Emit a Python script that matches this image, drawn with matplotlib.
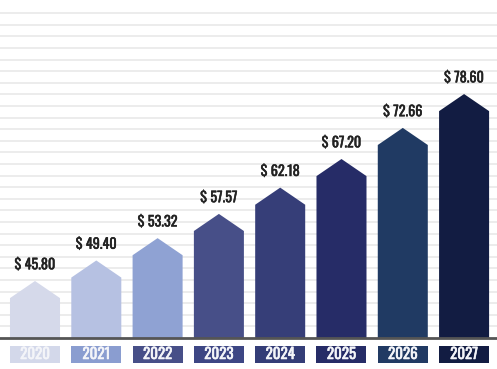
import matplotlib.pyplot as plt
import matplotlib.patheffects as pe
from matplotlib.patches import Polygon, Rectangle

# dados do gráfico
years = ["2020", "2021", "2022", "2023", "2024", "2025", "2026", "2027"]
values = [45.80, 49.40, 53.32, 57.57, 62.18, 67.20, 72.66, 78.60]
labels = ["$ 45.80", "$ 49.40", "$ 53.32", "$ 57.57", "$ 62.18", "$ 67.20", "$ 72.66", "$ 78.60"]

bar_colors = ["#d5d9ea", "#b6c1e2", "#8fa2d3", "#474f88", "#363e78", "#262c67", "#203a63", "#121c42"]
box_colors = ["#d3d8ea", "#8a9dd0", "#474f88", "#3d4684", "#343d77", "#262c67", "#213a63", "#121c42"]

base = 35.8        # valor na linha de base
px = 5.7           # pixels por unidade
roof = 3.0         # altura do "telhado" da seta
width = 0.816

fig = plt.figure(figsize=(4.97, 3.69), dpi=100)
ax = fig.add_axes([0, 0, 1, 1])
ax.set_xlim(-0.571, 7.537)
ax.set_ylim(base - 31 / px, base + 338 / px)
ax.axis("off")

# linhas de grade horizontais
step = 11.6 / px
k = 1
while base + k * step < base + 326 / px:
    ax.axhline(base + k * step, color="#ececec", lw=1.4, zorder=0)
    k += 1

font = "Oswald"

for i, (v, lab) in enumerate(zip(values, labels)):
    x0, x1 = i - width / 2, i + width / 2
    pts = [(x0, base), (x0, v - roof), (i, v), (x1, v - roof), (x1, base)]
    ax.add_patch(Polygon(pts, closed=True, facecolor=bar_colors[i], edgecolor="none", zorder=2))
    ax.text(i, v + 1.7, lab, ha="center", va="bottom", fontsize=10.2,
            family=font, color="#222222", zorder=3,
            path_effects=[pe.withStroke(linewidth=0.35, foreground="#222222")])
    # caixa do ano
    ax.add_patch(Rectangle((x0, base - 25 / px), width, 17 / px,
                           facecolor=box_colors[i], edgecolor="none", zorder=2))
    ax.text(i, base - 16.5 / px, years[i], ha="center", va="center", fontsize=10.8,
            family=font, color="#f4f5f9", zorder=3,
            path_effects=[pe.withStroke(linewidth=0.4, foreground="#f4f5f9")])

ax.axhline(base, color="#555555", lw=2, zorder=3)

fig.savefig("out.png", dpi=100)
